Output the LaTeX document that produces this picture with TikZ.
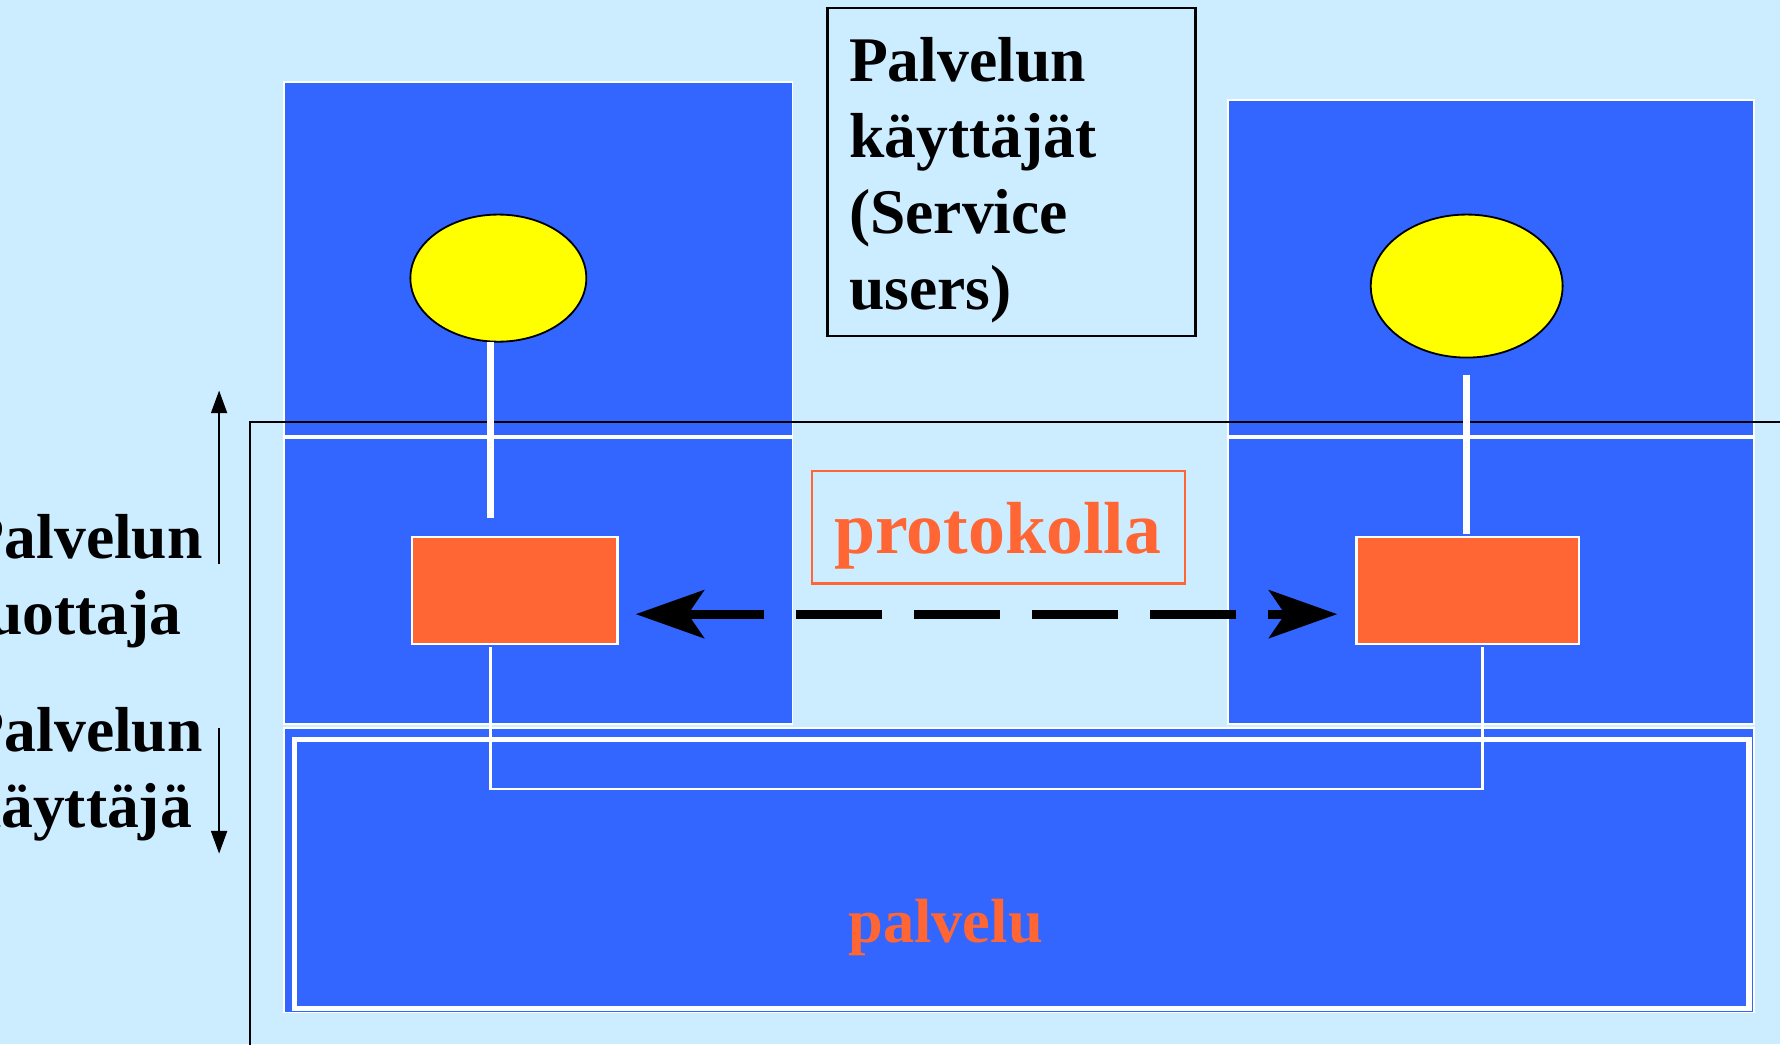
\documentclass[tikz,border=0pt]{standalone}
\usepackage{fontspec}
\setmainfont{Liberation Serif}
\usetikzlibrary{arrows.meta,shapes.geometric}
\definecolor{bg}{HTML}{CCECFF}
\definecolor{pblue}{HTML}{3366FF}
\definecolor{porange}{HTML}{FF6633}
\definecolor{pyellow}{HTML}{FFFF00}
\newcommand{\mylines}[2]{\vtop{\hbox{#1}\hbox{#2}}}
\newcommand{\myfour}[4]{\vtop{\hbox{#1}\hbox{#2}\hbox{#3}\hbox{#4}}}
\begin{document}
\begin{tikzpicture}[x=1pt,y=-1pt,
  bluebox/.style={rectangle, fill=pblue, draw=white, line width=1.5pt, anchor=north west, inner sep=0pt, outer sep=0pt},
  orangebox/.style={rectangle, fill=porange, draw=white, line width=2pt, anchor=north west, inner sep=0pt, outer sep=0pt},
  userball/.style={ellipse, fill=pyellow, draw=black, line width=1.6pt, inner sep=0pt, outer sep=0pt},
  stem/.style={draw=white, line width=6pt},
  thinwhite/.style={draw=white, line width=2pt},
  bigtext/.style={inner sep=0pt, outer sep=0pt, font=\bfseries\fontsize{56}{67}\selectfont},
  sidearrow/.style={draw=black, line width=2pt, -{Triangle[length=20pt,width=14pt]}},
  protoarrow/.style={draw=black, line width=8pt, dash pattern=on 76pt off 28pt, dash phase=6pt,
     {Stealth[length=60pt,width=42pt,inset=14pt]}-{Stealth[length=60pt,width=42pt,inset=14pt]}}
]
\useasboundingbox (0,0) rectangle (1568,920);
\clip (0,0) rectangle (1568,920);
\fill[bg] (0,0) rectangle (1568,920);

% blue layer boxes
\node[bluebox, minimum width=448pt, minimum height=312pt] (luser) at (250,72) {};
\node[bluebox, minimum width=448pt, minimum height=252pt] (lprov) at (250,386) {};
\node[bluebox, minimum width=463pt, minimum height=296pt] (ruser) at (1082,88) {};
\node[bluebox, minimum width=463pt, minimum height=252pt] (rprov) at (1082,386) {};
\node[bluebox, minimum width=1295pt, minimum height=251pt] (service) at (250,641) {};
\node[rectangle, draw=white, line width=5pt, anchor=north west, inner sep=0pt, minimum width=1281pt, minimum height=237pt] (serviceband) at (257,649) {};

% thin black frame
\coordinate (frtr) at (1600,372);
\coordinate (frtl) at (220,372);
\coordinate (frbl) at (220,960);
\draw[black, line width=2pt] (frtr) -- (frtl) -- (frbl);

% users
\node[userball, minimum width=155pt, minimum height=112pt] (lent) at (439,245) {};
\node[userball, minimum width=169pt, minimum height=126pt] (rent) at (1292,252) {};

% protocol entities
\node[orangebox, minimum width=181pt, minimum height=94pt] (lpe) at (363,473) {};
\node[orangebox, minimum width=196pt, minimum height=94pt] (rpe) at (1195,473) {};

% stems
\draw[stem] ([xshift=-7pt]lent.south) -- ([xshift=-21.5pt,yshift=17pt]lpe.north);
\draw[stem] ([yshift=-15pt]rent.south) -- ([xshift=-1pt,yshift=3pt]rpe.north);

% service connection
\coordinate (busr) at (1306,695);
\draw[thinwhite] ([xshift=-21.5pt,yshift=-3pt]lpe.south) |- (busr) -- ([xshift=13pt,yshift=-3pt]rpe.south);

% protocol arrow
\coordinate (al) at (560,541);
\coordinate (ar) at (1178,541);
\draw[protoarrow] (al) -- (ar);

% protocol label
\node[rectangle, draw=porange, line width=2pt, anchor=north west, inner sep=0pt, minimum width=329pt, minimum height=99pt] (protobox) at (714,414) {};
\node[anchor=base, inner sep=0pt, text=porange, font=\bfseries\fontsize{65}{78}\selectfont] (prototext) at (879,488) {protokolla};

% service label
\node[anchor=base, inner sep=0pt, text=porange, font=\bfseries\fontsize{55}{66}\selectfont] (servicetext) at (833,830) {palvelu};

% title box
\node[rectangle, draw=black, line width=2pt, anchor=north west, inner sep=0pt, minimum width=324pt, minimum height=289pt] (titlebox) at (728,6) {};
\node[bigtext, anchor=base west] (titletext) at (748,72) {\myfour{Palvelun}{käyttäjät}{(Service}{users)}};

% left labels
\node[bigtext, anchor=base west] (provlabel) at (-30,492) {\mylines{Palvelun}{tuottaja}};
\node[bigtext, anchor=base west] (userlabel) at (-30,662) {\mylines{Palvelun}{käyttäjä}};

% side arrows
\coordinate (upa) at (193,497);
\coordinate (upb) at (193,344);
\coordinate (dna) at (193,641);
\coordinate (dnb) at (193,752);
\draw[sidearrow] (upa) -- (upb);
\draw[sidearrow] (dna) -- (dnb);
\end{tikzpicture}
\end{document}
